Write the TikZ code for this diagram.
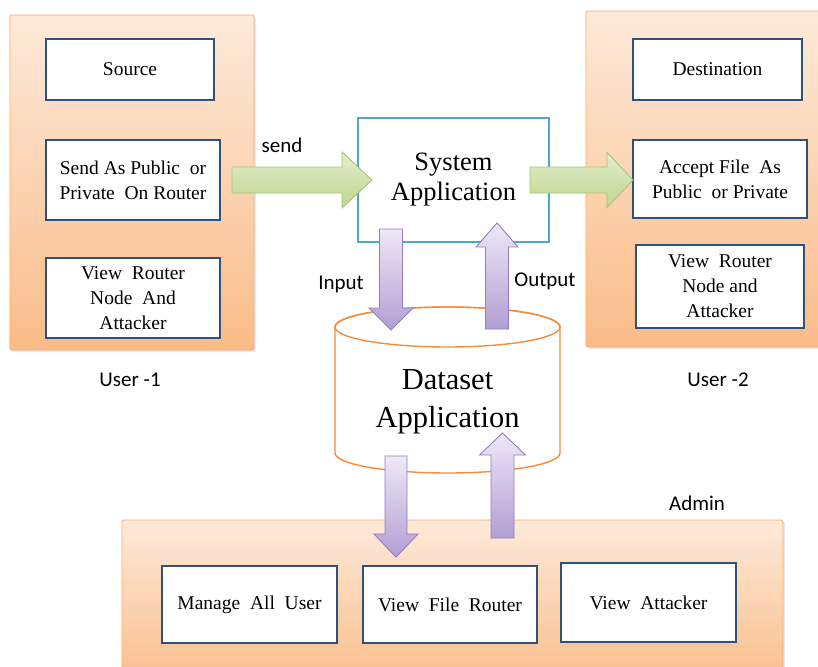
\documentclass[tikz,border=0pt]{standalone}
\usepackage{fontspec}
\setmainfont{Liberation Serif}
\newfontfamily\lblsans{Carlito}
\usetikzlibrary{shadows}
\definecolor{paneltop}{RGB}{253,234,218}
\definecolor{panelbot}{RGB}{250,188,136}
\definecolor{panelborder}{RGB}{249,170,105}
\definecolor{boxblue}{RGB}{48,80,128}
\definecolor{syscyan}{RGB}{75,172,198}
\definecolor{cylorange}{RGB}{244,140,60}
\definecolor{greentop}{RGB}{226,238,204}
\definecolor{greenbot}{RGB}{190,214,142}
\definecolor{greenborder}{RGB}{165,198,112}
\definecolor{purptop}{RGB}{238,232,247}
\definecolor{purpbot}{RGB}{178,158,212}
\definecolor{purpborder}{RGB}{148,124,190}
\newcommand{\hblockarrow}[7][]{%
  \draw[#1] (#2,{#5-#6}) -- (#3,{#5-#6}) -- (#3,{#5-#7}) -- (#4,#5)
    -- (#3,{#5+#7}) -- (#3,{#5+#6}) -- (#2,{#5+#6}) -- cycle;}
\newcommand{\vblockarrow}[7][]{%
  \draw[#1] ({#2-#6},#3) -- ({#2-#6},#4) -- ({#2-#7},#4) -- (#2,#5)
    -- ({#2+#7},#4) -- ({#2+#6},#4) -- ({#2+#6},#3) -- cycle;}
\tikzset{
  panel/.style={draw=panelborder, line width=0.8pt, top color=paneltop,
    bottom color=panelbot, rounded corners=1.5pt,
    drop shadow={opacity=0.18, shadow xshift=2pt, shadow yshift=-2pt}},
  itembox/.style={draw=boxblue, line width=1.8pt, fill=white, align=center,
    inner sep=0pt, font=\fontsize{19.5}{25}\selectfont},
  sysbox/.style={draw=syscyan, line width=1.3pt, fill=white, align=center,
    inner sep=0pt, font=\fontsize{26.5}{30}\selectfont},
  cyl/.style={draw=cylorange, line width=1.4pt, fill=white},
  lbl/.style={font=\lblsans\fontsize{21}{24}\selectfont, inner sep=0pt},
  greenarrow/.style={draw=greenborder, line width=0.9pt, top color=greentop, bottom color=greenbot},
  purparrow/.style={draw=purpborder, line width=0.9pt, top color=purptop, bottom color=purpbot},
}
\begin{document}
\begin{tikzpicture}[x=1pt,y=-1pt]
\useasboundingbox (0,0) rectangle (818,666);
\clip (0,0) rectangle (818,666);
\fill[white] (0,0) rectangle (818,666);
% panels
\node[panel, minimum width=244pt, minimum height=335pt] (user1) at (132,182.5) {};
\node[panel, minimum width=244pt, minimum height=336pt] (user2) at (708,179) {};
\node[panel, minimum width=661pt, minimum height=170pt] (admin) at (452.5,605) {};
% user 1 boxes
\node[itembox, minimum width=168pt, minimum height=61pt] (source) at (130,69.5) {Source};
\node[itembox, minimum width=174pt, minimum height=80pt] (sendbox) at (133,180) {Send As Public\ \ or\\Private\ \ On Router};
\node[itembox, minimum width=174pt, minimum height=80pt] (view1) at (133,298) {View\ \ Router\\Node\ \ And\\Attacker};
% user 2 boxes
\node[itembox, minimum width=169pt, minimum height=61pt] (dest) at (717.5,69.5) {Destination};
\node[itembox, minimum width=174pt, minimum height=78pt] (accept) at (720,179) {Accept File\ \ As\\Public\ \ or Private};
\node[itembox, minimum width=168pt, minimum height=83pt] (view2) at (720,286.5) {View\ \ Router\\Node and\\Attacker};
% admin boxes
\node[itembox, minimum width=175pt, minimum height=77pt] (manage) at (249.5,604.5) {Manage\ \ All\ \ User};
\node[itembox, minimum width=174pt, minimum height=77pt] (viewfile) at (450,604.5) {View\ \ File\ \ Router};
\node[itembox, minimum width=175pt, minimum height=79pt] (viewatt) at (648.5,602.5) {View\ \ Attacker};
% system application
\node[sysbox, minimum width=191pt, minimum height=124pt] (sys) at (453.5,180) {System\\Application};
% dataset cylinder
\draw[cyl] (335,327) -- (335,453) arc[start angle=180, end angle=0, x radius=112.5, y radius=20]
  -- (560,327) arc[start angle=0, end angle=-180, x radius=112.5, y radius=20] -- cycle;
\draw[cylorange, line width=1.4pt] (447.5,327) ellipse [x radius=112.5, y radius=20];
\node[align=center, font=\fontsize{30.5}{38}\selectfont, inner sep=0pt] (dataset) at (447.5,402) {Dataset\\Application};
% green arrows
\hblockarrow[greenarrow]{232}{342}{372}{180}{13}{28}
\hblockarrow[greenarrow]{530}{607}{633}{180}{13}{27.5}
% purple arrows
\vblockarrow[purparrow]{391}{229}{308}{330}{11.5}{22}
\vblockarrow[purparrow]{497}{329}{247}{223}{11.5}{21}
\vblockarrow[purparrow]{396}{456}{534}{557}{11}{22}
\vblockarrow[purparrow]{502.5}{538}{455}{433}{11.5}{23}
% labels
\node[lbl] (lsend) at (282,145) {send};
\node[lbl] (linput) at (341,284) {Input};
\node[lbl] (loutput) at (545,281) {Output};
\node[lbl] (luser1) at (130,380) {User -1};
\node[lbl] (luser2) at (718,380) {User -2};
\node[lbl] (ladmin) at (697,503) {Admin};
\end{tikzpicture}
\end{document}
